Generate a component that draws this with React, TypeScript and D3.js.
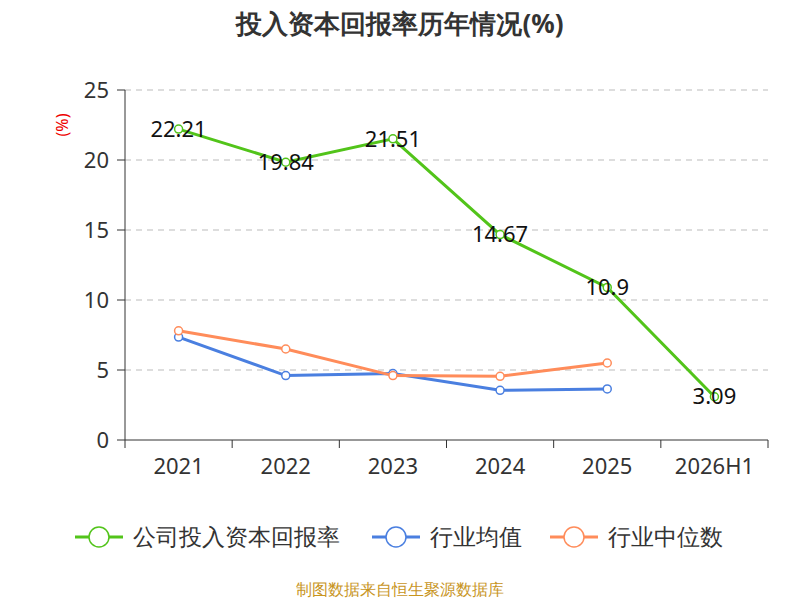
import React from 'react';
import * as d3 from 'd3';

const categories = ['2021', '2022', '2023', '2024', '2025', '2026H1'];
const companyRoic = [22.21, 19.84, 21.51, 14.67, 10.9, 3.09];
const industryAvg = [7.35, 4.6, 4.75, 3.55, 3.65];
const industryMedian = [7.8, 6.5, 4.6, 4.55, 5.5];
const yTicks = [0, 5, 10, 15, 20, 25];

const W = 800;
const H = 600;
const margin = { left: 125, right: 32, top: 90, bottom: 160 };

export default function App() {
  const x = d3.scaleBand<string>().domain(categories).range([margin.left, W - margin.right]);
  const y = d3.scaleLinear().domain([0, 25]).range([H - margin.bottom, margin.top]);
  const cx = (i: number) => (x(categories[i]) ?? 0) + x.bandwidth() / 2;
  const line = d3.line<number>().x((_, i) => cx(i)).y((d) => y(d));

  const series = [
    { name: '公司投入资本回报率', data: companyRoic, color: '#52c41a' },
    { name: '行业均值', data: industryAvg, color: '#4a7fe0' },
    { name: '行业中位数', data: industryMedian, color: '#ff8c5a' },
  ];
  const font = 'Noto Sans, sans-serif';
  const legendX = [75, 372, 550];

  return (
    <svg width={W} height={H} style={{ position: 'absolute', left: 0, top: 0, fontFamily: font }}>
      <rect width={W} height={H} fill="#fff" />
      <text x={400} y={33} textAnchor="middle" fontSize={26} fontWeight="bold" fill="#333">
        投入资本回报率历年情况(%)
      </text>
      <text transform={`translate(68,125) rotate(-90)`} textAnchor="middle" fontSize={16} fill="#e00">(%)</text>
      {yTicks.map((t) => (
        <g key={t}>
          {t > 0 && (
            <line x1={margin.left} x2={W - margin.right} y1={y(t)} y2={y(t)} stroke="#bbb" strokeDasharray="6,5" />
          )}
          <line x1={margin.left - 8} x2={margin.left} y1={y(t)} y2={y(t)} stroke="#333" />
          <text x={margin.left - 16} y={y(t)} dy="0.35em" textAnchor="end" fontSize={22} fill="#333">{t}</text>
        </g>
      ))}
      <line x1={margin.left} x2={margin.left} y1={margin.top} y2={y(0)} stroke="#333" />
      <line x1={margin.left} x2={W - margin.right} y1={y(0)} y2={y(0)} stroke="#333" />
      {categories.map((c, i) => (
        <g key={c}>
          <line x1={x(c)} x2={x(c)} y1={y(0)} y2={y(0) + 8} stroke="#333" />
          <text x={cx(i)} y={y(0) + 34} textAnchor="middle" fontSize={22} fill="#333">{c}</text>
        </g>
      ))}
      <line x1={W - margin.right} x2={W - margin.right} y1={y(0)} y2={y(0) + 8} stroke="#333" />
      {series.map((s) => (
        <g key={s.name}>
          <path d={line(s.data) ?? ''} fill="none" stroke={s.color} strokeWidth={3} />
          {s.data.map((d, i) => (
            <circle key={i} cx={cx(i)} cy={y(d)} r={4} fill="#fff" stroke={s.color} strokeWidth={1.5} />
          ))}
        </g>
      ))}
      {companyRoic.map((d, i) => (
        <text key={i} x={cx(i)} y={y(d)} dy="0.35em" textAnchor="middle" fontSize={22} fill="#111">{d}</text>
      ))}
      {series.map((s, i) => (
        <g key={s.name} transform={`translate(${legendX[i]},537)`}>
          <line x1={0} x2={48} stroke={s.color} strokeWidth={3} />
          <circle cx={24} r={10} fill="#fff" stroke={s.color} strokeWidth={1.5} />
          <text x={58} dy="0.35em" fontSize={23} fill="#333">{s.name}</text>
        </g>
      ))}
      <text x={400} y={595} textAnchor="middle" fontSize={16} fill="#c8951e">制图数据来自恒生聚源数据库</text>
    </svg>
  );
}
